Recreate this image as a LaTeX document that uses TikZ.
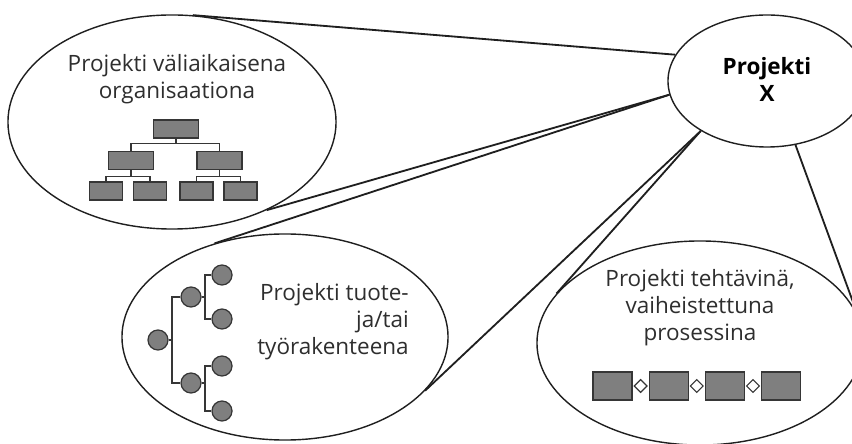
\documentclass[tikz,border=0pt]{standalone}
\usepackage{fontspec}
\setmainfont{Open Sans}
\usepackage{xcolor}
\definecolor{linedark}{HTML}{1F1F1F}
\definecolor{boxfill}{HTML}{7F7F7F}
\definecolor{boxbd}{HTML}{363636}
\definecolor{textmain}{HTML}{2E2E2E}
\usetikzlibrary{shapes.geometric, positioning, calc}

\begin{document}
\begin{tikzpicture}[
        x=0.025cm, y=-0.025cm,
        bubble/.style={
            ellipse,
            draw=linedark,
            line width=1pt,
            inner sep=0pt
        },
        tail/.style={
            draw=linedark,
            line width=1.3pt
        },
        btext/.style={
            font=\fontsize{16}{19.2}\selectfont\color{textmain},
            align=center,
            inner sep=0pt
        },
        orgbox/.style={
            rectangle,
            draw=boxbd,
            fill=boxfill,
            line width=0.9pt,
            minimum width=1.125cm,
            minimum height=0.45cm,
            inner sep=0pt
        },
        leafbox/.style={orgbox, minimum width=0.82cm},
        ball/.style={
            circle,
            draw=boxbd,
            fill=boxfill,
            line width=0.9pt,
            minimum size=0.5cm,
            inner sep=0pt
        },
        phase/.style={
            rectangle,
            draw=boxbd,
            fill=boxfill,
            line width=0.9pt,
            minimum width=0.975cm,
            minimum height=0.7cm,
            inner sep=0pt
        },
        gate/.style={
            diamond,
            draw=boxbd,
            fill=white,
            line width=0.8pt,
            minimum size=0.33cm,
            inner sep=0pt
        },
        wire/.style={draw=boxbd, line width=0.8pt}
    ]

    \useasboundingbox (0,0) rectangle (852,444);
    \clip (0,0) rectangle (852,444);

    % Bubbles
    \node[bubble, minimum width=8.2cm, minimum height=5.35cm] (org) at (172,122) {};
    \node[bubble, minimum width=8.15cm, minimum height=5.15cm] (wbs) at (285,337) {};
    \node[bubble, minimum width=8.15cm, minimum height=5.1cm] (proc) at (700,343) {};
    \node[bubble, minimum width=4.95cm, minimum height=3.3cm] (px) at (767,81) {};

    % Tails
    \draw[tail] (org.79) -- (px.164);
    \draw[tail] (org.-43) -- (px.188);
    \draw[tail] (wbs.127) -- (px.188);
    \draw[tail] (wbs.-21) -- (px.217);
    \draw[tail] (proc.161) -- (px.217);
    \draw[tail] (proc.8) -- (px.294);

    % Texts
    \node[btext] (orgtxt) at (177,79) {Projekti väliaikaisena\\organisaationa};
    \node[btext, align=right, anchor=east] (wbstxt) at (409,322) {Projekti tuote-\\ja/tai\\työrakenteena};
    \node[btext] (proctxt) at (700,308) {Projekti tehtävinä,\\vaiheistettuna\\prosessina};
    \node[btext, font=\fontsize{16}{19.2}\selectfont\bfseries\color{black}] (pxtxt) at (767,79) {Projekti\\X};

    % Organisation chart
    \node[orgbox] (top) at (176,129) {};
    \node[orgbox] (midl) at (131,160.5) {};
    \node[orgbox] (midr) at (219.5,160.5) {};
    \node[leafbox] (leaf1) at (106,191) {};
    \node[leafbox] (leaf2) at (150,191) {};
    \node[leafbox] (leaf3) at (196.5,191) {};
    \node[leafbox] (leaf4) at (240.5,191) {};

    \draw[wire] (top.south) -- ++(0,5) coordinate (topj) -| (midl);
    \draw[wire] (topj) -| (midr);
    \draw[wire] (midl.south) -- ++(0,6) coordinate (lj) -| (leaf1);
    \draw[wire] (lj) -| (leaf2);
    \draw[wire] (midr.south) -- ++(0,6) coordinate (rj) -| (leaf3);
    \draw[wire] (rj) -| (leaf4);

    % Breakdown tree
    \node[ball] (root) at (158,340) {};
    \node[ball] (upper) at (191,297) {};
    \node[ball] (lower) at (191,383) {};
    \node[ball] (leafa) at (222,275) {};
    \node[ball] (leafb) at (222,319) {};
    \node[ball] (leafc) at (222,366) {};
    \node[ball] (leafd) at (222,411) {};
    \coordinate (rootj) at (172,340);
    \coordinate (upj) at (205,297);
    \coordinate (lowj) at (205,383);

    \draw[wire] (root) -- (rootj);
    \draw[wire] (upper) -| (rootj) |- (lower);
    \draw[wire] (upper) -- (upj);
    \draw[wire] (leafa) -| (upj) |- (leafb);
    \draw[wire] (lower) -- (lowj);
    \draw[wire] (leafc) -| (lowj) |- (leafd);

    % Process chain
    \node[phase] (ph1) at (612.5,386) {};
    \node[gate, right=0.02cm of ph1] (g1) {};
    \node[phase, right=0.02cm of g1] (ph2) {};
    \node[gate, right=0.02cm of ph2] (g2) {};
    \node[phase, right=0.02cm of g2] (ph3) {};
    \node[gate, right=0.02cm of ph3] (g3) {};
    \node[phase, right=0.02cm of g3] (ph4) {};

    \end{tikzpicture}
\end{document}
